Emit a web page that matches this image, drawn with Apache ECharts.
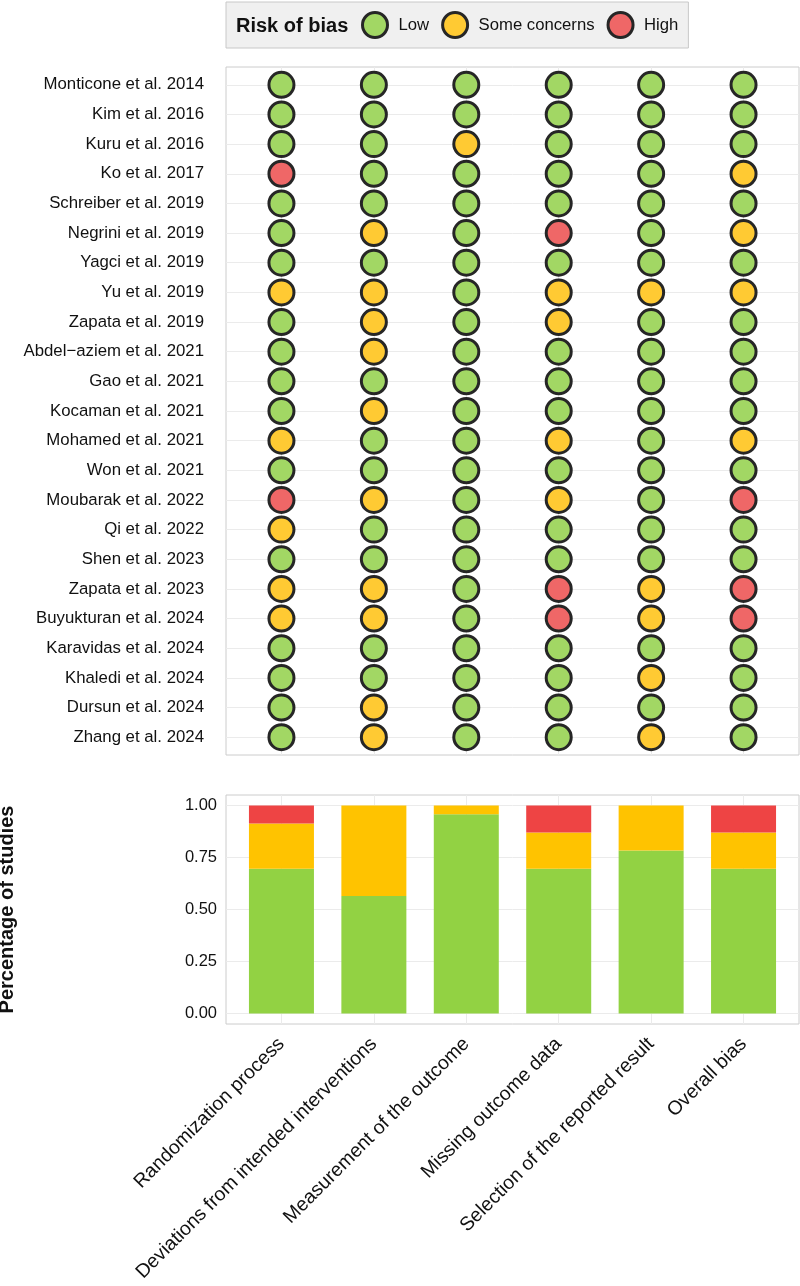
<!DOCTYPE html>
<html lang="en">
<head>
  <meta charset="UTF-8">
  <title>Risk of bias – traffic light plot and summary</title>
  <style>
    * { margin: 0; padding: 0; }
    html, body { width: 100%; height: 100%; background: #fff; }
    #chart { width: 800px; height: 1286px; }
  </style>
</head>
<body>
  <div id="chart"></div>

  <script src="https://cdn.jsdelivr.net/npm/echarts@6/dist/echarts.min.js"></script>

  <script>
    // studies, top to bottom
    const studies = [
      'Monticone et al. 2014', 'Kim et al. 2016', 'Kuru et al. 2016', 'Ko et al. 2017',
      'Schreiber et al. 2019', 'Negrini et al. 2019', 'Yagci et al. 2019', 'Yu et al. 2019',
      'Zapata et al. 2019', 'Abdel\u2212aziem et al. 2021', 'Gao et al. 2021', 'Kocaman et al. 2021',
      'Mohamed et al. 2021', 'Won et al. 2021', 'Moubarak et al. 2022', 'Qi et al. 2022',
      'Shen et al. 2023', 'Zapata et al. 2023', 'Buyukturan et al. 2024', 'Karavidas et al. 2024',
      'Khaledi et al. 2024', 'Dursun et al. 2024', 'Zhang et al. 2024'
    ];

    const domains = [
      'Randomization process',
      'Deviations from intended interventions',
      'Measurement of the outcome',
      'Missing outcome data',
      'Selection of the reported result',
      'Overall bias'
    ];

    // judgement per study (L = low, S = some concerns, H = high)
    const randomization = ['L','L','L','H','L','L','L','S','L','L','L','L','S','L','H','S','L','S','S','L','L','L','L'];
    const deviations    = ['L','L','L','L','L','S','L','S','S','S','L','S','L','L','S','L','L','S','S','L','L','S','S'];
    const measurement   = ['L','L','S','L','L','L','L','L','L','L','L','L','L','L','L','L','L','L','L','L','L','L','L'];
    const missingData   = ['L','L','L','L','L','H','L','S','S','L','L','L','S','L','S','L','L','H','H','L','L','L','L'];
    const selection     = ['L','L','L','L','L','L','L','S','L','L','L','L','L','L','L','L','L','S','S','L','S','L','S'];
    const overall       = ['L','L','L','S','L','S','L','S','L','L','L','L','S','L','H','L','L','H','H','L','L','L','L'];

    // share of studies per domain (bottom panel)
    const lowShare  = [0.696, 0.565, 0.957, 0.696, 0.783, 0.696];
    const someShare = [0.217, 0.435, 0.043, 0.174, 0.217, 0.174];
    const highShare = [0.087, 0.000, 0.000, 0.130, 0.000, 0.130];

    const levels = [
      { key: 'L', name: 'Low',           dot: '#A2D764', bar: '#92D243' },
      { key: 'S', name: 'Some concerns', dot: '#FFCA33', bar: '#FFC300' },
      { key: 'H', name: 'High',          dot: '#EF6767', bar: '#EE4444' }
    ];

    const font = '"Liberation Sans", Arial, sans-serif';
    const ink = '#111111';
    const gridLine = '#ebebeb';
    const frame = '#cccccc';

    const columns = [randomization, deviations, measurement, missingData, selection, overall];
    const rowIdx = studies.map((s, i) => i);
    const colIdx = domains.map((d, i) => i + 1);
    const yTicks = [0, 0.25, 0.5, 0.75, 1];

    // panel geometry (ggplot-like expansion of 0.6 units on discrete axes)
    const panelLeft = 226, panelWidth = 573;
    const unit = panelWidth / (domains.length - 1 + 1.2);
    const bandLeft = panelLeft + 0.6 * unit - unit / 2;

    function dotsFor(key) {
      const out = [];
      columns.forEach((col, c) => {
        col.forEach((j, r) => { if (j === key) out.push([c + 1, r]); });
      });
      return out;
    }

    const dom = document.getElementById('chart');
    const chart = echarts.init(dom, null, { renderer: 'canvas' });

    const dotSeries = levels.map(l => ({
      name: l.name,
      type: 'scatter',
      xAxisIndex: 0,
      yAxisIndex: 0,
      z: 10,
      symbol: 'circle',
      symbolSize: 25,
      itemStyle: { color: l.dot, borderColor: '#262626', borderWidth: 3, opacity: 1 },
      emphasis: { disabled: true },
      data: dotsFor(l.key)
    }));

    const shares = [lowShare, someShare, highShare];
    const barSeries = levels.map((l, k) => ({
      name: l.name,
      type: 'bar',
      xAxisIndex: 2,
      yAxisIndex: 2,
      stack: 'rob',
      barWidth: 65,
      z: 5,
      itemStyle: { color: l.bar },
      emphasis: { disabled: true },
      data: shares[k]
    }));

    const hiddenAxis = {
      axisLine: { show: false },
      axisTick: { show: false },
      axisLabel: { show: false },
      splitLine: { show: false }
    };

    const option = {
      animation: false,
      textStyle: { fontFamily: font },
      title: {
        text: 'Risk of bias',
        left: 236,
        top: 16,
        padding: 0,
        textStyle: { fontFamily: font, fontSize: 20, fontWeight: 'bold', color: ink }
      },
      legend: {
        left: 226,
        top: 2,
        padding: [9, 10, 9, 135],
        itemWidth: 25,
        itemHeight: 25,
        itemGap: 12,
        icon: 'circle',
        backgroundColor: '#f0f0f0',
        borderColor: '#c8c8c8',
        borderWidth: 1,
        data: levels.map(l => l.name),
        itemStyle: { borderColor: '#262626', borderWidth: 3 },
        textStyle: { fontFamily: font, fontSize: 16.7, color: ink, padding: [0, 0, 0, 6] }
      },
      grid: [
        // traffic light panel
        { left: panelLeft, top: 67, width: panelWidth, height: 688, show: true, borderColor: frame, borderWidth: 1, backgroundColor: '#fff', outerBoundsMode: 'none' },
        // summary panel frame + grid lines
        { left: panelLeft, top: 795, width: panelWidth, height: 229, show: true, borderColor: frame, borderWidth: 1, backgroundColor: '#fff', outerBoundsMode: 'none' },
        // summary bars (band axis aligned with the columns above)
        { left: bandLeft, top: 795, width: unit * domains.length, height: 229, show: false, outerBoundsMode: 'none' }
      ],
      xAxis: [
        {
          type: 'value', gridIndex: 0, min: 0.4, max: 6.6,
          axisLine: { show: false },
          axisTick: { show: false, customValues: colIdx },
          axisLabel: { show: false, customValues: colIdx },
          splitLine: { show: true, lineStyle: { color: gridLine, width: 1 } }
        },
        {
          type: 'value', gridIndex: 1, min: 0.4, max: 6.6,
          axisLine: { show: false },
          axisTick: { show: false, customValues: colIdx },
          axisLabel: { show: false, customValues: colIdx },
          splitLine: { show: true, lineStyle: { color: gridLine, width: 1 } }
        },
        {
          type: 'category', gridIndex: 2, data: domains,
          axisLine: { show: false },
          axisTick: { show: false },
          splitLine: { show: false },
          axisLabel: {
            interval: 0,
            rotate: 45,
            margin: 17,
            padding: [8, 0, 0, 0],
            fontFamily: font,
            fontSize: 19.5,
            color: ink
          }
        }
      ],
      yAxis: [
        {
          type: 'value', gridIndex: 0, min: -0.6, max: 22.6, inverse: true,
          axisLine: { show: false },
          axisTick: { show: false, customValues: rowIdx },
          axisLabel: {
            customValues: rowIdx,
            formatter: v => studies[Math.round(v)],
            margin: 22,
            fontFamily: font,
            fontSize: 16.8,
            color: ink
          },
          splitLine: { show: true, lineStyle: { color: gridLine, width: 1 } }
        },
        {
          type: 'value', gridIndex: 1, min: -0.05, max: 1.05,
          name: 'Percentage of studies',
          nameLocation: 'middle',
          nameRotate: 90,
          nameGap: 209,
          nameTextStyle: { fontFamily: font, fontSize: 20, fontWeight: 'bold', color: ink },
          axisLine: { show: false },
          axisTick: { show: false, customValues: yTicks },
          axisLabel: {
            customValues: yTicks,
            formatter: v => v.toFixed(2),
            margin: 9,
            fontFamily: font,
            fontSize: 16.5,
            color: ink
          },
          splitLine: { show: true, lineStyle: { color: gridLine, width: 1 } }
        },
        Object.assign({ type: 'value', gridIndex: 2, min: -0.05, max: 1.05 }, hiddenAxis)
      ],
      series: dotSeries.concat(barSeries)
    };

    chart.setOption(option);
    window.addEventListener('resize', () => chart.resize());
  </script>
</body>
</html>
